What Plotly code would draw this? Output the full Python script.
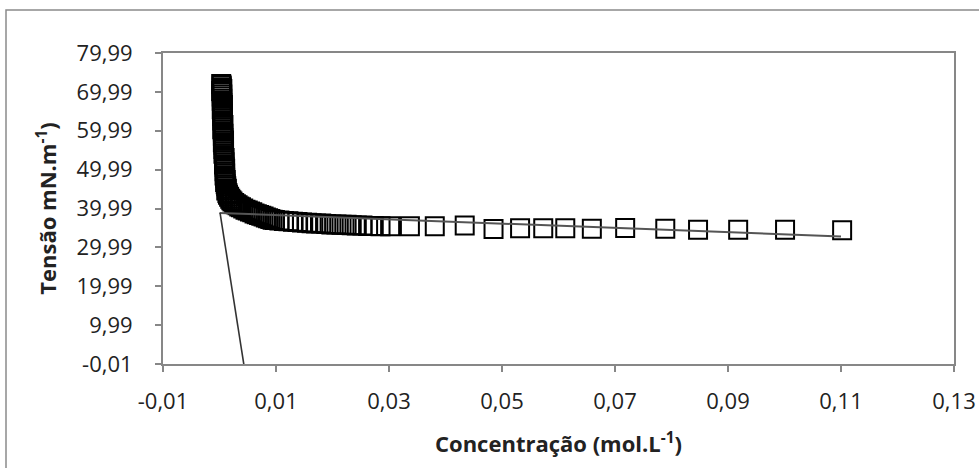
import plotly.graph_objects as go

# Measured data: concentration (mol/L) and surface tension (mN/m)
conc = [
    0.0003, 0.0004, 0.0004, 0.0005, 0.0003, 0.0004, 0.0005, 0.0004, 0.0005, 0.0004,
    0.0005, 0.0006, 0.0005, 0.0004, 0.0005, 0.0006, 0.0005, 0.0006, 0.0005, 0.0006,
    0.0007, 0.0006, 0.0005, 0.0006, 0.0007, 0.0006, 0.0007, 0.0008, 0.0006, 0.0007,
    0.0008, 0.0007, 0.0008, 0.0007, 0.0008, 0.0009, 0.0008, 0.0009, 0.0008, 0.0009,
    0.0010, 0.0009, 0.0010, 0.0009, 0.0010, 0.0011, 0.0010, 0.0011, 0.0012, 0.0013,
    0.0012, 0.0014, 0.0015, 0.0017, 0.0019, 0.0021, 0.0023, 0.0026, 0.0029, 0.0032,
    0.0035, 0.0038, 0.0042, 0.0046, 0.0050, 0.0054, 0.0058, 0.0062, 0.0066, 0.0070,
    0.0074, 0.0078, 0.0082, 0.0086, 0.0090, 0.0094, 0.0098,
    0.0106, 0.0114, 0.0122, 0.0130, 0.0138, 0.0146, 0.0155, 0.0163, 0.0171, 0.0180,
    0.0189, 0.0198, 0.0207, 0.0216, 0.0225, 0.0234, 0.0243, 0.0253, 0.0263, 0.0273,
    0.0285, 0.0302, 0.0337, 0.0381, 0.0434, 0.0485, 0.0532, 0.0573, 0.0612, 0.0659,
    0.0718, 0.0789, 0.0847, 0.0918, 0.1001, 0.1102,
]
tension = [
    72.0, 71.6, 71.1, 70.7, 70.2, 69.8, 69.3, 68.8, 68.2, 67.7,
    67.1, 66.6, 66.0, 65.5, 64.9, 64.3, 63.8, 63.2, 62.6, 62.1,
    61.5, 60.9, 60.4, 59.8, 59.2, 58.7, 58.1, 57.5, 57.0, 56.4,
    55.8, 55.3, 54.7, 54.1, 53.6, 53.0, 52.4, 51.9, 51.3, 50.7,
    50.2, 49.6, 49.0, 48.5, 47.9, 47.3, 46.8, 46.2, 45.7, 45.1,
    44.6, 44.0, 43.5, 43.0, 42.5, 42.1, 41.8, 41.4, 41.1, 40.8,
    40.5, 40.3, 40.0, 39.7, 39.5, 39.2, 39.0, 38.7, 38.5, 38.3,
    38.1, 37.9, 37.7, 37.5, 37.3, 37.1, 37.0,
    36.9, 36.8, 36.7, 36.6, 36.5, 36.4, 36.3, 36.2, 36.1, 36.1,
    36.0, 35.9, 35.9, 35.8, 35.8, 35.7, 35.6, 35.6, 35.5, 35.5,
    35.4, 35.4, 35.4, 35.4, 35.6, 34.7, 34.9, 34.9, 34.9, 34.8,
    35.0, 34.8, 34.5, 34.5, 34.5, 34.4,
]

# Linear trend lines (post-CMC and pre-CMC)
fit_flat_x = [0.0, 0.11]
fit_flat_y = [38.85, 32.8]
fit_steep_x = [0.0001, 0.0043]
fit_steep_y = [38.85, -0.01]

x_tick_vals = [-0.01, 0.01, 0.03, 0.05, 0.07, 0.09, 0.11, 0.13]
x_tick_text = ["-0,01", "0,01", "0,03", "0,05", "0,07", "0,09", "0,11", "0,13"]
y_tick_vals = [-0.01, 9.99, 19.99, 29.99, 39.99, 49.99, 59.99, 69.99, 79.99]
y_tick_text = ["-0,01", "9,99", "19,99", "29,99", "39,99", "49,99", "59,99", "69,99", "79,99"]

FONT = "Open Sans"
AXIS_GRAY = "#878787"
TEXT = "#222222"

fig = go.Figure()
fig.add_trace(go.Scatter(
    x=conc, y=tension, mode="markers",
    marker=dict(symbol="square-open", size=18, color="black",
                line=dict(width=2, color="black")),
    cliponaxis=False,
))
fig.add_trace(go.Scatter(
    x=fit_flat_x, y=fit_flat_y, mode="lines",
    line=dict(color="#555555", width=2),
))
fig.add_trace(go.Scatter(
    x=fit_steep_x, y=fit_steep_y, mode="lines",
    line=dict(color="#333333", width=1.6),
))

fig.update_layout(
    width=979, height=468,
    margin=dict(l=163, r=25, t=53, b=104, autoexpand=False),
    paper_bgcolor="white", plot_bgcolor="white",
    showlegend=False,
    font=dict(family=FONT, color=TEXT, size=22),
    xaxis=dict(
        range=[-0.01, 0.13], automargin=False,
        tickvals=x_tick_vals, ticktext=x_tick_text,
        showline=True, linecolor=AXIS_GRAY, linewidth=2, mirror=True,
        ticks="outside", ticklen=6, tickwidth=2, tickcolor=AXIS_GRAY,
        showgrid=False, zeroline=False,
        tickfont=dict(family=FONT, size=22, color=TEXT),
        ticklabelstandoff=11,
        title=dict(text="<b>Concentração (mol.L<sup>-1</sup>)</b>",
                   font=dict(family=FONT, size=22, color=TEXT), standoff=22),
    ),
    yaxis=dict(
        range=[-0.01, 79.99], automargin=False,
        tickvals=y_tick_vals, ticktext=y_tick_text,
        showline=True, linecolor=AXIS_GRAY, linewidth=2, mirror=True,
        ticks="outside", ticklen=6, tickwidth=2, tickcolor=AXIS_GRAY,
        showgrid=False, zeroline=False,
        tickfont=dict(family=FONT, size=22, color=TEXT),
        ticklabelstandoff=18,
        title=dict(text="<b>Tensão mN.m<sup>-1</sup>)</b>",
                   font=dict(family=FONT, size=22, color=TEXT), standoff=14),
    ),
    shapes=[dict(
        type="rect", xref="paper", yref="paper",
        x0=(6 - 163) / 791, x1=1.2, y0=-0.5, y1=1 + (53 - 10) / 311,
        line=dict(color="#8a8a8a", width=1.5), fillcolor="rgba(0,0,0,0)",
        layer="below",
    )],
)

fig.write_html(
    "out.html",
    config={"displayModeBar": False},
    post_script="document.body.style.margin='0';document.body.style.overflow='hidden';",
)
